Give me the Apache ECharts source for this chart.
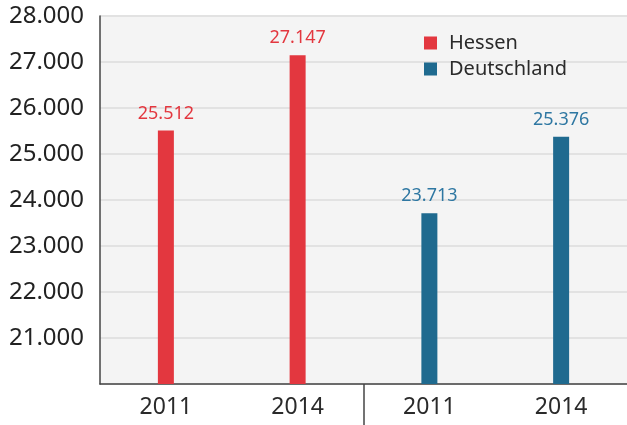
<!DOCTYPE html>
<html>
<head>
<meta charset="utf-8">
<script src="https://cdn.jsdelivr.net/npm/echarts@6/dist/echarts.min.js"></script>
<style>
  html, body { margin: 0; padding: 0; background: #fff; }
  #chart { width: 627px; height: 425px; }
</style>
</head>
<body>
<div id="chart"></div>
<script>
var categories = ["2011", "2014", "2011", "2014"];
var hessen = [25512, 27147, null, null];
var deutschland = [null, null, 23713, 25376];
var yTicks = [20000, 28000, 1000];
// divider between the two groups, in category units
var groupBreaks = [2];

var fmt = function (v) {
  return String(v).replace(/\B(?=(\d{3})+(?!\d))/g, ".");
};

var font = "Noto Sans";
var chart = echarts.init(document.getElementById("chart"));
chart.setOption({
  animation: false,
  textStyle: { fontFamily: font },
  color: ["#e3373f", "#1f6a8f"],
  legend: {
    orient: "vertical",
    left: 419,
    top: 28,
    itemWidth: 13,
    itemHeight: 13,
    itemGap: 6,
    icon: "rect",
    textStyle: { fontSize: 20, color: "#2a2a2a", fontFamily: font, padding: [0, 0, 0, 7] },
    data: ["Hessen", "Deutschland"]
  },
  grid: {
    left: 100,
    right: -4,
    top: 16,
    bottom: 41,
    show: true,
    backgroundColor: "#f4f4f4",
    borderWidth: 0
  },
  xAxis: [
    {
      type: "category",
      data: categories,
      axisLine: { lineStyle: { color: "#444", width: 1.5 } },
      axisTick: { show: false },
      axisLabel: { fontSize: 23, color: "#2a2a2a", margin: 12 }
    },
    {
      type: "value",
      min: 0,
      max: categories.length,
      position: "bottom",
      axisLine: { show: false },
      axisLabel: { show: false },
      splitLine: { show: false },
      axisTick: {
        show: true,
        length: 41,
        customValues: groupBreaks,
        lineStyle: { color: "#444", width: 1.5 }
      }
    }
  ],
  yAxis: {
    type: "value",
    min: yTicks[0],
    max: yTicks[1],
    interval: yTicks[2],
    axisLine: { show: true, lineStyle: { color: "#444", width: 1.5 } },
    axisTick: { show: false },
    splitLine: { lineStyle: { color: "#e2e2e2", width: 2 } },
    axisLabel: {
      fontSize: 24,
      color: "#222",
      margin: 16,
      showMinLabel: false,
      formatter: fmt
    }
  },
  series: [
    {
      name: "Hessen",
      type: "bar",
      data: hessen,
      barWidth: 16,
      barGap: "-100%",
      label: {
        show: true,
        position: "top",
        distance: 8,
        fontSize: 18,
        color: "#e3373f",
        formatter: function (p) { return fmt(p.value); }
      }
    },
    {
      name: "Deutschland",
      type: "bar",
      data: deutschland,
      barWidth: 16,
      label: {
        show: true,
        position: "top",
        distance: 8,
        fontSize: 18,
        color: "#2e77a2",
        formatter: function (p) { return fmt(p.value); }
      }
    }
  ]
});
</script>
</body>
</html>
